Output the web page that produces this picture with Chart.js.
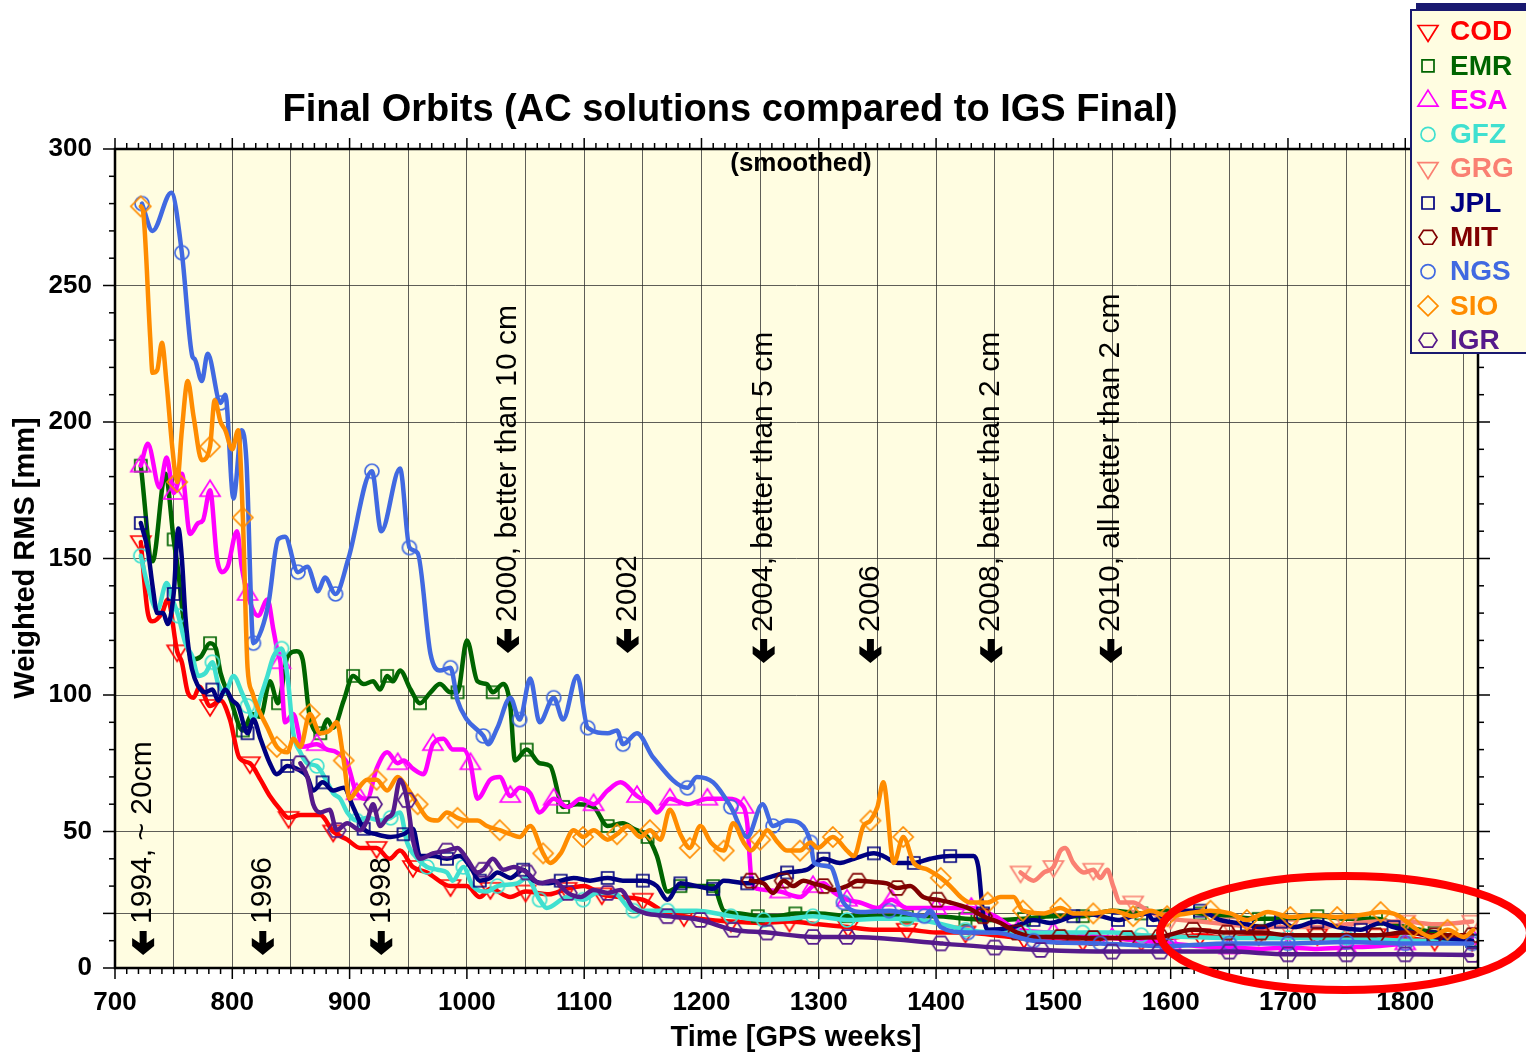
<!DOCTYPE html>
<html>
<head>
<meta charset="utf-8">
<title>Final Orbits</title>
<script src="https://cdn.jsdelivr.net/npm/chart.js@4.4.1/dist/chart.umd.min.js"></script>
<style>
html, body { margin: 0; padding: 0; background: #fff; overflow: hidden; }
#wrap { position: relative; width: 1526px; height: 1053px; }
</style>
</head>
<body>
<div id="wrap"><canvas id="orbits"></canvas></div>
<script>
// analysis centres, in legend order
const centres = ["COD", "EMR", "ESA", "GFZ", "GRG", "JPL", "MIT", "NGS", "SIO", "IGR"]
const colours = ["#ff0000", "#006400", "#ff00ff", "#40e0d0", "#fa8072", "#000080", "#800000", "#4169e1", "#ff8c00", "#551a8b"]
const markers = ["triangleDown", "rect", "triangle", "circle", "triangleDown", "rect", "hexagon", "circle", "diamond", "hexagon"]

// [GPS week, weighted RMS mm]
const COD = [[722,156],[728,130],[732,127],[740,130],[745,135],[753,116],[757,112],[762,101],[767,99],[772,103],[781,96],[790,98],[798,91],[806,77],[815,75],[824,69],[832,63],[841,58],[848,55],[858,56],[875,56],[886,50],[898,47],[909,44],[923,44],[934,40],[943,43],[954,37],[966,35],[986,30],[1000,30],[1011,26],[1020,29],[1037,26],[1050,28],[1070,27],[1085,29],[1100,30],[1115,27],[1130,26],[1150,25],[1171,20],[1185,19],[1200,18],[1225,17],[1250,16.5],[1275,17],[1300,16],[1325,15],[1350,14],[1375,14],[1400,13],[1425,13],[1450,12],[1475,11],[1500,11],[1525,10],[1550,11],[1575,10],[1600,11],[1625,12],[1650,11],[1675,12],[1700,11],[1725,12],[1750,11],[1775,12],[1800,11],[1825,10],[1857,10]]
const EMR = [[722,184],[732,149],[743,181],[750,157],[754,145],[758,129],[766,113],[773,114],[781,119],[786,117],[790,108],[798,99],[809,87],[817,93],[824,92],[832,105],[839,97],[847,114],[855,116],[860,113],[866,92],[875,86],[881,91],[886,88],[895,98],[903,107],[912,104],[920,105],[926,102],[932,107],[937,105],[943,109],[952,102],[960,97],[969,101],[977,104],[986,101],[992,101],[1000,120],[1009,105],[1017,104],[1022,101],[1031,104],[1037,96],[1041,76],[1051,80],[1062,75],[1071,74],[1082,59],[1094,60],[1108,59],[1120,52],[1133,53],[1142,51],[1154,48],[1162,41],[1171,28],[1182,30],[1210,30],[1219,21],[1233,20],[1248,19],[1265,19],[1280,20],[1300,20],[1325,19],[1350,19],[1375,19],[1400,19],[1425,18],[1450,17.5],[1475,18],[1500,19],[1525,19],[1550,21],[1575,20],[1600,21],[1625,20],[1650,19],[1675,18],[1700,18],[1725,19],[1750,18],[1775,18],[1800,15],[1825,13],[1857,10]]
const ESA = [[722,184],[728,192],[738,176],[744,187],[750,174],[757,181],[764,159],[771,163],[775,164],[781,175],[787,150],[791,145],[796,147],[804,160],[808,147],[813,137],[822,129],[830,135],[835,124],[839,115],[841,112],[845,90],[852,93],[860,81],[872,82],[881,80],[889,79],[898,75],[906,64],[915,62],[923,73],[932,79],[941,75],[946,76],[954,73],[963,71],[971,82],[980,84],[988,80],[997,80],[1003,75],[1009,62],[1020,69],[1028,70],[1037,63],[1045,66],[1054,64],[1062,57],[1074,62],[1086,59],[1097,62],[1108,60],[1120,65],[1131,68],[1145,63],[1156,60],[1162,57],[1173,62],[1188,60],[1205,62],[1222,62],[1236,59],[1239,53],[1243,31],[1248,29],[1267,28],[1284,26],[1295,30],[1304,31],[1312,28],[1324,25],[1335,24],[1350,22],[1362,25],[1375,22],[1400,22],[1430,22],[1450,19],[1470,14],[1500,13],[1525,12],[1550,11],[1575,10],[1600,9],[1625,8],[1650,7.5],[1675,7],[1700,7.5],[1725,7],[1750,7.5],[1775,8],[1800,9],[1825,10],[1857,11]]
const GFZ = [[722,151],[728,140],[736,131],[744,141],[749,135],[754,129],[760,119],[766,114],[771,107],[777,108],[783,112],[788,104],[794,101],[801,107],[808,101],[813,96],[818,91],[824,99],[830,107],[835,114],[842,117],[847,107],[852,86],[858,79],[864,75],[872,74],[881,68],[886,64],[892,62],[898,57],[906,54],[915,55],[926,54],[935,55],[943,57],[949,46],[958,40],[966,37],[975,36],[983,35],[988,32],[997,37],[1005,30],[1017,28],[1026,30],[1043,31],[1051,33],[1062,25],[1068,22],[1086,26],[1099,25],[1111,27.5],[1125,27.5],[1142,21],[1171,21],[1196,21],[1225,19],[1253,17.6],[1275,18],[1295,19],[1324,17.6],[1350,18],[1375,18],[1400,16.5],[1425,14],[1450,13],[1475,13],[1500,13],[1525,13],[1550,13],[1575,12],[1600,11.5],[1650,11],[1700,11],[1750,11],[1800,10],[1857,10]]
const GRG = [[1472,35],[1478,33],[1483,32],[1492,35],[1500,37],[1506,43],[1510,44],[1517,38.5],[1526,35],[1534,36],[1540,33],[1546,36],[1551,30],[1557,24],[1568,24],[1577,22],[1590,19],[1600,18],[1625,17],[1650,16],[1675,15],[1700,15],[1725,15],[1750,16],[1775,17],[1800,17],[1825,16],[1857,17]]
const JPL = [[722,163],[728,153],[732,140],[736,130],[741,130],[745,126],[750,137],[754,161],[757,150],[760,129],[764,113],[768,106],[773,102],[777,101],[783,102],[788,98],[794,102],[800,98],[805,96],[813,86],[818,91],[824,84],[832,75],[838,71],[847,74],[855,73],[864,70],[869,65],[877,68],[886,65],[895,66],[903,59],[912,51],[923,49],[935,48],[946,49],[954,51],[960,41],[971,41],[983,40],[994,41],[1003,37],[1011,32],[1020,33],[1026,35],[1037,33],[1048,36],[1057,32],[1068,31],[1080,32],[1091,33],[1105,32],[1120,33],[1133,32],[1150,32],[1162,30],[1171,25],[1182,31],[1196,30],[1210,29],[1219,32],[1239,31],[1256,33],[1273,35],[1290,36],[1304,40],[1318,38.5],[1330,40],[1347,42],[1355,41],[1367,38.5],[1381,38.5],[1395,40],[1412,41],[1432,41],[1436,37],[1440,20],[1444,14],[1466,15],[1483,17.6],[1497,16.5],[1517,19],[1529,20],[1540,19],[1555,17.6],[1568,19],[1580,20],[1585,17.6],[1610,21],[1625,21],[1642,17.6],[1665,16],[1677,15],[1694,17],[1705,15],[1725,17],[1742,15],[1762,14],[1779,16.5],[1790,15],[1807,13],[1824,11.4],[1857,10]]
const MIT = [[1242,32],[1253,31],[1261,27.5],[1270,32],[1278,30],[1287,32],[1295,31],[1304,30],[1312,28.6],[1324,30],[1333,32],[1347,31.5],[1358,31],[1367,29.3],[1378,30],[1389,26],[1401,25],[1412,24],[1427,22],[1440,19],[1455,16.5],[1469,13],[1486,11.4],[1506,11.4],[1534,11],[1563,11],[1591,11.4],[1619,14],[1648,13],[1677,13],[1700,12],[1725,12],[1750,12],[1775,12],[1800,13],[1825,12],[1857,12]]
const NGS = [[723,280],[732,270],[748,284],[757,262],[766,224],[768,223],[774,215],[779,225],[790,207],[794,210],[801,172],[808,197],[812,186],[818,119],[825,124],[831,134],[839,157],[845,158],[856,145],[864,147],[873,138],[879,143],[888,137],[899,150],[919,182],[927,160],[943,183],[951,154],[958,152],[969,115],[977,109],[986,110],[992,98],[1000,91],[1014,85],[1018,82],[1026,88],[1037,99],[1045,91],[1054,106],[1062,90],[1074,99],[1082,91],[1094,107],[1103,88],[1120,86],[1128,87],[1133,82],[1145,86],[1159,77],[1188,66],[1196,70],[1210,68],[1225,59],[1239,48],[1252,60],[1261,52],[1273,54],[1284,53],[1293,46],[1296,38.5],[1310,37],[1321,24],[1338,20.5],[1360,21],[1390,19],[1395,21],[1404,15],[1427,13],[1449,13],[1483,10],[1540,9],[1597,8],[1650,9],[1700,9],[1750,9.5],[1800,9],[1857,9]]
const SIO = [[722,279],[724,277],[730,231],[732,218],[736,219],[740,229],[744,214],[749,190],[753,178],[757,197],[762,215],[767,202],[774,186],[781,191],[785,208],[790,200],[794,197],[800,190],[805,197],[809,165],[813,110],[817,101],[821,96],[830,88],[838,81],[847,79],[852,84],[858,81],[866,93],[875,86],[883,87],[889,90],[895,76],[900,62],[906,65],[915,69],[923,69],[932,65],[941,70],[949,66],[958,60],[966,55],[975,54],[983,57],[992,55],[1000,54],[1009,54],[1017,52],[1028,50.5],[1037,49],[1045,48],[1054,52],[1065,42],[1071,38.5],[1080,42],[1091,50.5],[1099,48],[1108,50.5],[1120,47],[1128,49],[1137,52],[1148,48],[1156,50.5],[1165,47],[1173,58],[1182,49],[1190,44],[1199,52],[1208,46],[1219,43],[1227,53],[1236,46],[1242,43],[1250,47],[1256,50.5],[1265,46],[1273,43],[1284,43],[1293,46],[1299,44],[1312,48],[1324,43],[1330,41],[1338,52],[1344,54],[1350,59],[1355,68],[1364,38.5],[1372,48],[1381,38.5],[1393,36],[1404,33],[1412,30],[1421,26],[1429,24],[1444,24],[1455,26],[1466,26],[1474,21],[1492,20],[1506,22],[1517,20],[1534,20],[1551,21],[1568,19],[1583,21],[1597,19],[1614,20],[1634,21],[1651,20],[1665,17.6],[1683,20.5],[1702,18.7],[1722,19.4],[1742,18.7],[1762,19.4],[1779,20.5],[1793,19.4],[1807,15],[1822,11.4],[1836,14],[1850,11.4],[1858,14]]
const IGR = [[858,75],[864,70],[869,60],[875,57],[883,58],[889,50.5],[898,53],[909,50.5],[915,54],[920,60],[926,52],[932,55],[937,57],[943,69],[949,61.5],[954,47],[960,40],[971,42],[983,43],[992,44],[1000,40],[1009,35],[1014,36],[1022,40],[1031,36],[1040,37],[1051,35],[1062,31],[1074,32],[1086,27.5],[1097,26],[1108,28.6],[1120,27.5],[1131,28.6],[1142,22],[1171,19],[1199,17.6],[1227,14],[1256,13],[1295,11.4],[1324,11.4],[1350,11],[1404,9],[1450,7.5],[1489,6.6],[1550,6],[1591,6],[1650,6],[1700,5],[1750,5],[1800,5],[1857,4.8]]
const seriesData = [COD, EMR, ESA, GFZ, GRG, JPL, MIT, NGS, SIO, IGR]

// axes
const weekMin = 700
const weekMax = 1862
const weekLabels = [700, 800, 900, 1000, 1100, 1200, 1300, 1400, 1500, 1600, 1700, 1800]
const rmsLabels = [0, 50, 100, 150, 200, 250, 300]
const rmsExtraGrid = [20]

// year markers along the top of the curves
const eventWeeks = [724, 826, 927, 1035, 1137, 1253, 1344, 1447, 1549]
const eventTexts = ["1994, ~ 20cm", "1996", "1998", "2000, better than 10 cm", "2002", "2004, better than 5 cm", "2006", "2008, better than 2 cm", "2010, all better than 2 cm"]
const eventLevels = [4.8, 4.8, 4.8, 115.4, 115.4, 111.7, 111.7, 111.7, 111.7]

const FONT = "'Liberation Sans', Arial, Helvetica, sans-serif"
Chart.defaults.font.family = FONT

function drawMarker(ctx, shape, x, y, colour) {
    ctx.save()
    ctx.strokeStyle = colour
    ctx.lineWidth = 1.7
    ctx.beginPath()
    if (shape == "circle") {
        ctx.arc(x, y, 7, 0, 2 * Math.PI)
    } else if (shape == "rect") {
        ctx.rect(x - 6, y - 6, 12, 12)
    } else if (shape == "triangle") {
        ctx.moveTo(x, y - 10); ctx.lineTo(x + 10, y + 6); ctx.lineTo(x - 10, y + 6); ctx.closePath()
    } else if (shape == "triangleDown") {
        ctx.moveTo(x, y + 10); ctx.lineTo(x + 10, y - 6); ctx.lineTo(x - 10, y - 6); ctx.closePath()
    } else if (shape == "diamond") {
        ctx.moveTo(x, y - 10); ctx.lineTo(x + 10, y); ctx.lineTo(x, y + 10); ctx.lineTo(x - 10, y); ctx.closePath()
    } else if (shape == "hexagon") {
        for (let k = 0; k < 6; k++) {
            const a = Math.PI / 3 * k
            const px = x + 9 * Math.cos(a), py = y + 8 * Math.sin(a)
            if (k == 0) ctx.moveTo(px, py); else ctx.lineTo(px, py)
        }
        ctx.closePath()
    }
    ctx.stroke()
    ctx.restore()
}

function markerImage(shape, colour) {
    const c = document.createElement("canvas")
    c.width = 26
    c.height = 26
    drawMarker(c.getContext("2d"), shape, 13, 13, colour)
    return c
}

// a hollow symbol roughly every 28 weeks along each curve
function markerFlags(points) {
    let last = -Infinity
    return points.map(p => {
        if (p[0] - last >= 28) { last = p[0]; return true }
        return false
    })
}

function drawArrow(ctx, x, tip) {
    ctx.beginPath()
    ctx.moveTo(x - 3.5, tip - 24)
    ctx.lineTo(x + 3.5, tip - 24)
    ctx.lineTo(x + 3.5, tip - 12)
    ctx.lineTo(x + 11, tip - 17)
    ctx.lineTo(x + 11, tip - 9)
    ctx.lineTo(x, tip)
    ctx.lineTo(x - 11, tip - 9)
    ctx.lineTo(x - 11, tip - 17)
    ctx.lineTo(x - 3.5, tip - 12)
    ctx.closePath()
    ctx.fill()
}

function line(ctx, x1, y1, x2, y2) {
    ctx.beginPath()
    ctx.moveTo(x1, y1)
    ctx.lineTo(x2, y2)
    ctx.stroke()
}

const decorations = {
    id: "decorations",
    beforeDraw(chart) {
        const ctx = chart.ctx, a = chart.chartArea
        ctx.save()
        ctx.fillStyle = "#fffde1"
        ctx.fillRect(a.left, a.top, a.right - a.left, a.bottom - a.top)
        ctx.restore()
    },
    afterDatasetsDraw(chart) {
        const ctx = chart.ctx
        const xs = chart.scales.x, ys = chart.scales.y
        ctx.save()
        ctx.fillStyle = "#000"
        ctx.font = "30px " + FONT
        eventWeeks.forEach((w, i) => {
            const px = xs.getPixelForValue(w)
            const tip = ys.getPixelForValue(eventLevels[i])
            drawArrow(ctx, px, tip)
            ctx.save()
            ctx.translate(px, tip - 31)
            ctx.rotate(-Math.PI / 2)
            ctx.textAlign = "left"
            ctx.textBaseline = "middle"
            ctx.fillText(eventTexts[i], 0, 0)
            ctx.restore()
        })
        ctx.restore()
    },
    afterDraw(chart) {
        const ctx = chart.ctx, a = chart.chartArea
        const xs = chart.scales.x, ys = chart.scales.y
        ctx.save()

        // frame and ticks on all four sides
        ctx.strokeStyle = "#000"
        ctx.lineWidth = 1.5
        for (let w = weekMin; w <= weekMax; w += 10) {
            const px = xs.getPixelForValue(w)
            const len = w % 100 == 0 ? 11 : 6
            line(ctx, px, a.bottom, px, a.bottom + len)
            line(ctx, px, a.top, px, a.top - len)
        }
        for (let v = 0; v <= 300; v += 10) {
            const py = ys.getPixelForValue(v)
            const len = (v % 50 == 0 || rmsExtraGrid.includes(v)) ? 12 : 6
            line(ctx, a.left - len, py, a.left, py)
            line(ctx, a.right, py, a.right + len, py)
        }
        ctx.lineWidth = 2.5
        ctx.strokeRect(a.left, a.top, a.right - a.left, a.bottom - a.top)

        // titles
        ctx.fillStyle = "#000"
        ctx.textAlign = "center"
        ctx.textBaseline = "middle"
        ctx.font = "bold 38px " + FONT
        ctx.fillText("Final Orbits (AC solutions compared to IGS Final)", 730, 111)
        ctx.font = "bold 26px " + FONT
        ctx.fillText("(smoothed)", 801, 164)
        ctx.font = "bold 29px " + FONT
        ctx.fillText("Time [GPS weeks]", 796, 1038)
        ctx.save()
        ctx.translate(26, 558)
        ctx.rotate(-Math.PI / 2)
        ctx.font = "bold 29px " + FONT
        ctx.fillText("Weighted RMS [mm]", 0, 0)
        ctx.restore()

        // legend box, cut by the right edge
        ctx.fillStyle = "#191970"
        ctx.fillRect(1416, 3, 120, 8)
        ctx.fillStyle = "#fffde1"
        ctx.fillRect(1411, 10, 130, 343)
        ctx.strokeStyle = "#191970"
        ctx.lineWidth = 2
        ctx.strokeRect(1411, 10, 130, 343)
        ctx.textAlign = "left"
        ctx.font = "bold 28px " + FONT
        centres.forEach((name, i) => {
            const cy = 31.5 + 34.3 * i
            drawMarker(ctx, markers[i], 1428, cy, colours[i])
            ctx.fillStyle = colours[i]
            ctx.fillText(name, 1450, cy + 1)
        })

        // red ellipse round the recent weeks
        ctx.strokeStyle = "#ff0000"
        ctx.lineWidth = 8
        ctx.beginPath()
        ctx.ellipse(1345, 933, 185, 57, 0, 0, 2 * Math.PI)
        ctx.stroke()
        ctx.restore()
    }
}

const gridWeeks = []
for (let w = weekMin; w <= 1850; w += 50) gridWeeks.push(w)
const gridRms = rmsLabels.concat(rmsExtraGrid).sort((p, q) => p - q)

const datasets = centres.map((name, i) => {
    const flags = markerFlags(seriesData[i])
    return {
        label: name,
        data: seriesData[i].map(p => ({ x: p[0], y: p[1] })),
        borderColor: colours[i],
        backgroundColor: colours[i],
        borderWidth: 4.5,
        borderJoinStyle: "round",
        borderCapStyle: "round",
        cubicInterpolationMode: "monotone",
        pointStyle: markerImage(markers[i], colours[i]),
        pointRadius: c => flags[c.dataIndex] ? 7 : 0,
        pointHoverRadius: 0,
        order: centres.length - i
    }
})

new Chart(document.getElementById("orbits"), {
    type: "line",
    data: { datasets: datasets },
    plugins: [decorations],
    options: {
        responsive: true,
        maintainAspectRatio: false,
        animation: false,
        events: [],
        layout: { padding: { top: 149, right: 48, left: 0, bottom: 0 } },
        plugins: {
            legend: { display: false },
            tooltip: { enabled: false }
        },
        scales: {
            x: {
                type: "linear",
                min: weekMin,
                max: weekMax,
                afterBuildTicks: s => { s.ticks = gridWeeks.map(v => ({ value: v })) },
                afterFit: s => { s.height = 85 },
                border: { display: false },
                grid: { color: "rgba(40,40,40,0.75)", lineWidth: 1, drawTicks: false },
                ticks: {
                    autoSkip: false,
                    maxRotation: 0,
                    padding: 19,
                    color: "#000",
                    font: { size: 26, weight: "bold" },
                    callback: v => weekLabels.includes(v) ? String(v) : ""
                }
            },
            y: {
                min: 0,
                max: 300,
                afterBuildTicks: s => { s.ticks = gridRms.map(v => ({ value: v })) },
                afterFit: s => { s.width = 115 },
                border: { display: false },
                grid: { color: "rgba(40,40,40,0.75)", lineWidth: 1, drawTicks: false },
                ticks: {
                    padding: 23,
                    color: "#000",
                    font: { size: 26, weight: "bold" },
                    callback: v => rmsLabels.includes(v) ? String(v) : ""
                }
            }
        }
    }
})
</script>
</body>
</html>
